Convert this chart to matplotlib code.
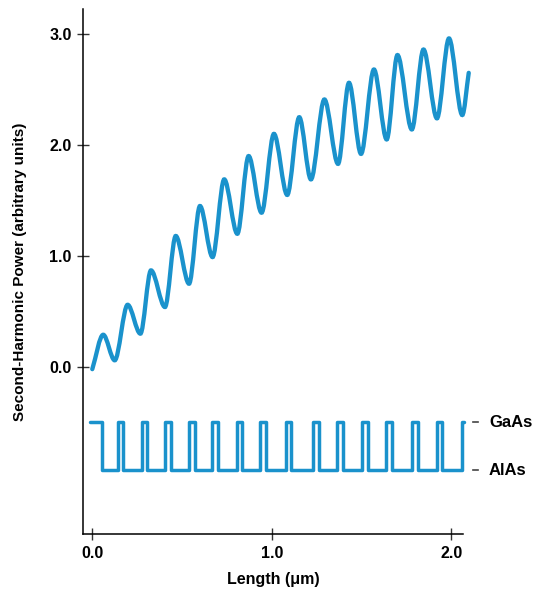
import matplotlib
matplotlib.use("Agg")
import matplotlib.pyplot as plt
from matplotlib.path import Path
from matplotlib.patches import PathPatch

plt.rcParams['font.family'] = ['Liberation Sans', 'DejaVu Sans']
plt.rcParams['font.weight'] = 'bold'

# Segunda armónica: extremos (x en µm, y en unidades arbitrarias)
curva_x = [0.0, 0.061, 0.125, 0.197, 0.268, 0.327, 0.405, 0.465, 0.539, 0.600,
           0.670, 0.735, 0.808, 0.871, 0.943, 1.012, 1.086, 1.153, 1.218, 1.293,
           1.369, 1.430, 1.497, 1.569, 1.640, 1.700, 1.780, 1.845, 1.920, 1.987,
           2.061, 2.097]
curva_y = [-0.02, 0.29, 0.06, 0.56, 0.30, 0.87, 0.54, 1.18, 0.75, 1.45,
           0.99, 1.69, 1.20, 1.90, 1.39, 2.10, 1.55, 2.25, 1.69, 2.41,
           1.83, 2.56, 1.92, 2.68, 2.05, 2.81, 2.14, 2.86, 2.24, 2.96,
           2.27, 2.65]

# Capas de la heteroestructura: bordes (µm), alternando GaAs / AlAs
capas_bordes = [-0.013, 0.052, 0.142, 0.173, 0.275, 0.306, 0.405, 0.437,
                0.539, 0.572, 0.668, 0.702, 0.804, 0.836, 0.934, 0.966,
                1.077, 1.108, 1.231, 1.265, 1.362, 1.395, 1.501, 1.534,
                1.636, 1.668, 1.779, 1.813, 1.919, 1.950, 2.058, 2.071]
nivel_gaas = -0.50
nivel_alas = -0.93
etiquetas = ['GaAs', 'AlAs']

color = '#1a92cc'

fig = plt.figure(figsize=(5.35, 5.92), dpi=100)
ax = fig.add_axes([0.1557, 0.098, 0.7097, 0.8862])

# curva suave: tangente horizontal en cada extremo
verts = [(curva_x[0], curva_y[0])]
codes = [Path.MOVETO]
n = len(curva_x)
for i in range(n - 1):
    x0, y0 = curva_x[i], curva_y[i]
    x1, y1 = curva_x[i + 1], curva_y[i + 1]
    dx = x1 - x0
    if i == 0:
        c1 = (x0 + dx / 3, y0 + (y1 - y0) / 3)
    else:
        c1 = (x0 + dx / 3, y0)
    if i == n - 2:
        c2 = (x1 - dx / 3, y1 - (y1 - y0) / 3)
    else:
        c2 = (x1 - dx / 3, y1)
    verts += [c1, c2, (x1, y1)]
    codes += [Path.CURVE4] * 3
ax.add_patch(PathPatch(Path(verts, codes), facecolor='none', edgecolor=color,
                       lw=3.1, capstyle='round', clip_on=False))

# onda cuadrada de capas
niveles = [nivel_gaas if i % 2 == 0 else nivel_alas for i in range(len(capas_bordes) - 1)]
niveles.append(niveles[-1])
ax.step(capas_bordes, niveles, where='post', color=color, lw=2.5,
        solid_joinstyle='round', solid_capstyle='round', clip_on=False)

for nivel, txt in zip([nivel_gaas, nivel_alas], etiquetas):
    ax.plot([2.12, 2.15], [nivel, nivel], color='#444444', lw=1.2, clip_on=False)
    ax.text(2.21, nivel, txt, fontsize=12, fontweight='bold', va='center', ha='left')

ax.set_xlim(-0.05, 2.065)
ax.set_ylim(-1.505, 3.222)
ax.set_xticks([0, 1, 2])
ax.set_xticklabels(['0.0', '1.0', '2.0'])
ax.set_yticks([0, 1, 2, 3])
ax.set_yticklabels(['0.0', '1.0', '2.0', '3.0'])
ax.tick_params(direction='inout', length=9, width=1.0, color='#333333',
               labelsize=11.5, pad=4)
ax.spines['top'].set_visible(False)
ax.spines['right'].set_visible(False)
for s in ['left', 'bottom']:
    ax.spines[s].set_linewidth(1.1)

ax.set_xlabel('Length (\u03bcm)', fontsize=11.5, fontweight='bold', labelpad=8)
ax.set_ylabel('Second-Harmonic Power (arbitrary units)', fontsize=11,
              fontweight='bold', labelpad=16)

fig.savefig('out.png', dpi=100)
